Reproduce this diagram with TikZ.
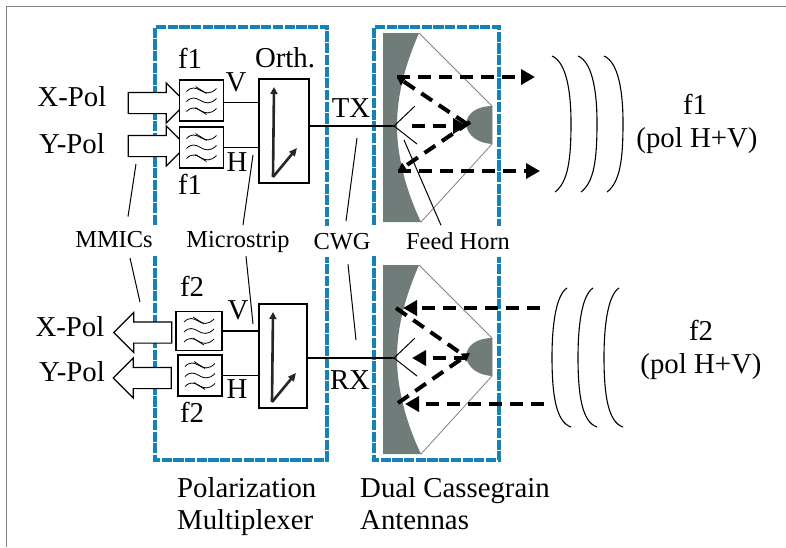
\documentclass[tikz,border=0pt]{standalone}
\usepackage{fontspec}
\setmainfont{Liberation Serif}
\usetikzlibrary{arrows.meta,shapes.arrows}
\definecolor{boxblue}{HTML}{1782B6}
\definecolor{dishgray}{HTML}{6F7C79}
\tikzset{
  big/.style={inner sep=0pt, anchor=base, font=\fontsize{28.8}{32}\selectfont},
  small/.style={inner sep=0pt, anchor=base, font=\fontsize{24.4}{28}\selectfont},
  filt/.style={draw, fill=white, line width=1.2pt, inner sep=0pt, minimum width=44pt, minimum height=41pt},
  orth/.style={draw, fill=white, line width=1.2pt, inner sep=0pt, minimum width=50pt, minimum height=104pt},
  pol/.style={draw, fill=white, line width=1.2pt, inner xsep=0pt, inner ysep=10pt, single arrow,
    single arrow head extend=9.5pt, minimum height=58pt},
  group/.style={draw=boxblue, line width=4.5pt, dash pattern=on 10.2pt off 1.5pt},
  wire/.style={line width=1.2pt},
  leader/.style={line width=1pt},
  ray/.style={line width=4pt, dash pattern=on 13pt off 8pt, -{Triangle[length=14pt,width=15pt]}},
  rayb/.style={line width=4pt, dash pattern=on 13pt off 8pt, -{Triangle[length=8pt,width=9pt]}},
  wavy/.pic={
    \foreach \dy in {-10,0,10}
      \draw[line width=.8pt] (-15,\dy+1) .. controls (-10,\dy-4) and (-6,\dy-3) .. (-1,\dy) .. controls (4,\dy+3) and (9,\dy+4) .. (15,\dy-2);
    \draw[line width=.8pt] (-6,-14) -- (5,-7) (-6,7) -- (5,14);
  },
  polar/.pic={
    \draw[line width=2.6pt, draw=black!85, -{Triangle[length=7pt,width=7pt]}] (-11,46) -- (-10,-44);
    \draw[line width=2.6pt, draw=black!85, -{Triangle[length=8pt,width=7pt]}] (-11,46) -- (13,17);
  },
  dish/.pic={
    \fill[dishgray] (383,0) -- (419,0) .. controls (406,30) and (397,60) .. (397,93) .. controls (397,125) and (407,160) .. (421,189) -- (383,189) -- cycle;
    \fill[dishgray] (492,73) .. controls (478,73) and (466,80) .. (466,92) .. controls (468,103) and (478,110) .. (492,111) -- cycle;
    \draw[line width=.8pt, black!50] (419,0) -- (492,73) -- (492,111) -- (421,189);
    \draw[line width=1pt] (415,73) -- (394,93) -- (417,111);
  },
  waveout/.pic={
    \foreach \dx in {0,26,52}
      \draw[line width=1.1pt] (552+\dx,56) .. controls (566+\dx,62) and (571+\dx,90) .. (571+\dx,123) .. controls (571+\dx,160) and (568+\dx,182) .. (555+\dx,192);
  },
  wavein/.pic={
    \foreach \dx in {0,26,52}
      \draw[line width=1.1pt] (567+\dx,288) .. controls (556+\dx,295) and (552+\dx,325) .. (552+\dx,357) .. controls (552+\dx,395) and (556+\dx,422) .. (571+\dx,427);
  }
}
\begin{document}
\begin{tikzpicture}[x=1pt, y=-1pt]
  \useasboundingbox (0,0) rectangle (786,547);
  \draw[line width=1.2pt, black!50] (6.5,547) -- (6.5,6.5) -- (786,6.5);

  \draw[group] (155,225) -- (155,27) -- (327,27) -- (327,226);
  \draw[group] (155,256) -- (155,460) -- (327,460) -- (327,257);
  \draw[group] (374,225) -- (374,27) -- (499,27) -- (499,226);
  \draw[group] (374,256) -- (374,460) -- (499,460) -- (499,257);

  \pic at (0,33) {dish};
  \pic at (0,265) {dish};
  \pic {waveout};
  \pic {wavein};

  \node[pol] (xin) at (152,103) {};
  \node[pol] (yin) at (152,146) {};
  \node[pol, shape border rotate=180] (xout) at (148,332.5) {};
  \node[pol, shape border rotate=180] (yout) at (147.5,378) {};

  \node[filt] (f1x) at (201.5,100.5) {};
  \node[filt] (f1y) at (201.5,147.5) {};
  \node[filt, minimum width=46pt, minimum height=39pt] (f2x) at (199,331) {};
  \node[filt, minimum height=41pt] (f2y) at (200,375.5) {};
  \foreach \n in {f1x,f1y,f2x,f2y}
    \pic at (\n) {wavy};

  \node[orth] (orth1) at (284,131) {};
  \node[orth, minimum width=48pt] (orth2) at (283,356) {};
  \pic at (orth1) {polar};
  \pic at (orth2) {polar};

  \coordinate (hornt) at (394,126);
  \coordinate (hornr) at (394,358);
  \draw[wire] ([yshift=-2pt]f1x.east) -- ([yshift=-2pt]f1x.east -| orth1.west);
  \draw[wire] (f1y.east) -- (f1y.east -| orth1.west);
  \draw[wire] (f2x.east) -- (f2x.east -| orth2.west);
  \draw[wire] (f2y.east) -- (f2y.east -| orth2.west);
  \draw[wire] (orth1.east |- hornt) -- (hornt);
  \draw[wire] (orth2.east |- hornr) -- (hornr);

  \coordinate (r1a) at (397,77);
  \coordinate (r1b) at (398,171);
  \coordinate (r1c) at (467,124);
  \draw[ray] (r1a) -- (535,77);
  \draw[ray] (r1b) -- (540,171);
  \draw[ray] (412,126) -- (467,126);
  \draw[rayb] (r1c) -- (r1a);
  \draw[rayb] (470,122) -- (r1b);

  \coordinate (r2a) at (396,308);
  \coordinate (r2b) at (398,403);
  \draw[ray] (540,308) -- (403,308);
  \draw[ray] (544,404) -- (405,404);
  \draw[ray] (467,358) -- (412,358);
  \draw[line width=4pt, dash pattern=on 13pt off 8pt] (r2a) -- (462,354);
  \draw[rayb] (r2b) -- (470,353);

  \node[big] at (72,106) {X-Pol};
  \node[big] at (72,153) {Y-Pol};
  \node[big] at (70,336) {X-Pol};
  \node[big] at (72,381) {Y-Pol};
  \node[big] at (190,68) {f1};
  \node[big] at (190,194) {f1};
  \node[big] at (192,296) {f2};
  \node[big] at (192,422) {f2};
  \node[big] at (236,91) {V};
  \node[big] at (237,171) {H};
  \node[big] at (238,319) {V};
  \node[big] at (237,398) {H};
  \node[big] at (285,67) {Orth.};
  \node[big] at (351,117) {TX};
  \node[big] at (350,389) {RX};
  \node[big] at (695,114) {f1};
  \node[big] at (697,147) {(pol H+V)};
  \node[big] at (701,340) {f2};
  \node[big] at (701,373) {(pol H+V)};
  \node[big, anchor=base west] at (177,497) {Polarization};
  \node[big, anchor=base west] at (177,529) {Multiplexer};
  \node[big, anchor=base west] at (360,497) {Dual Cassegrain};
  \node[big, anchor=base west] at (360,529) {Antennas};

  \node[small] (mmics) at (114,247) {MMICs};
  \node[small] (strip) at (238,247) {Microstrip};
  \node[small] (cwg) at (342,249) {CWG};
  \node[small] (feed) at (458,249) {Feed Horn};

  \coordinate (mm1) at (136,164);
  \coordinate (mm2) at (140,302);
  \coordinate (st1) at (253,155);
  \coordinate (st2) at (253,324);
  \coordinate (cw1) at (357,138);
  \coordinate (cw2) at (356,340);
  \coordinate (fd1) at (404,140);
  \draw[leader] ([shift={(14,-14)}]mmics.north) -- (mm1);
  \draw[leader] ([shift={(16,10.6)}]mmics.south) -- (mm2);
  \draw[leader] ([shift={(5,-5.6)}]strip.north) -- (st1);
  \draw[leader] ([shift={(8,3.8)}]strip.south) -- (st2);
  \draw[leader] ([shift={(4,-11.6)}]cwg.north) -- (cw1);
  \draw[leader] ([shift={(6,14.7)}]cwg.south) -- (cw2);
  \draw[leader] ([shift={(-17,-6.6)}]feed.north) -- (fd1);
\end{tikzpicture}
\end{document}
